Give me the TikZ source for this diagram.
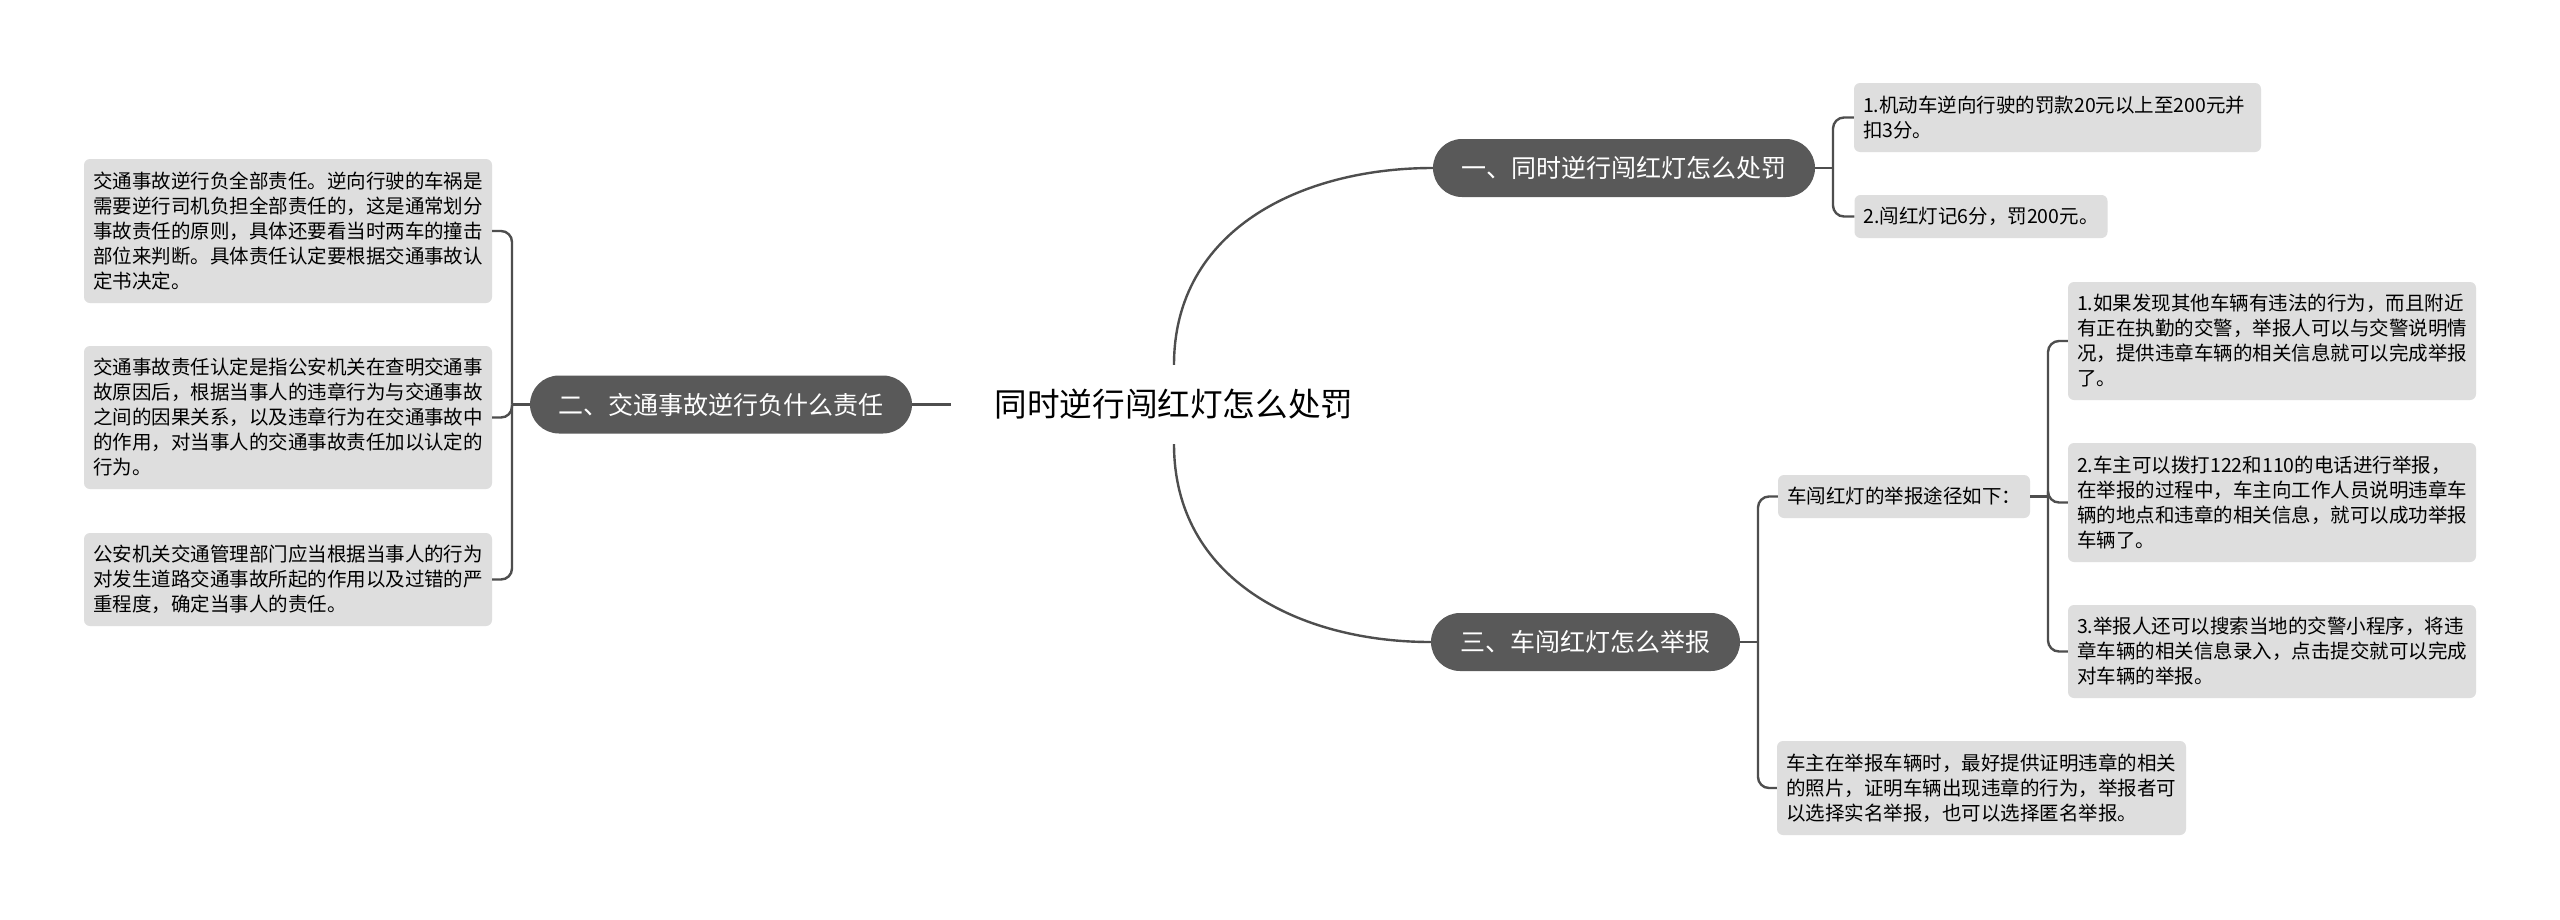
\documentclass[tikz,border=0pt]{standalone}
\usepackage{fontspec}
\setmainfont{Noto Sans CJK SC}
\definecolor{linec}{RGB}{78,78,78}
\definecolor{branchc}{RGB}{89,89,89}
\definecolor{leafc}{RGB}{222,222,222}
\begin{document}
\begin{tikzpicture}[x=1pt,y=-1pt,
  conn/.style={draw=linec, line width=2.4pt},
  branch/.style={fill=branchc, text=white, rounded corners=29pt, minimum height=58pt, inner sep=0pt, font=\fontsize{25}{30}\selectfont},
  leaf/.style={fill=leafc, rounded corners=6pt, inner xsep=9pt, inner ysep=0pt, align=left, font=\fontsize{19.5}{25}\selectfont, text=black},
  wide/.style={text width=390pt},
  titlebox/.style={inner sep=0pt, minimum width=446pt, minimum height=79pt, font=\fontsize{32.6}{40}\selectfont, text=black}
]
\fill[white] (0,0) rectangle (2560,919);
\useasboundingbox (0,0) rectangle (2560,919);

% central topic
\node[titlebox] (title) at (1174,404.5) {同时逆行闯红灯怎么处罚};

% main branches
\node[branch, minimum width=382pt] (b1) at (1624,168) {一、同时逆行闯红灯怎么处罚};
\node[branch, minimum width=382pt] (b2) at (721,404.5) {二、交通事故逆行负什么责任};
\node[branch, minimum width=309pt] (b3) at (1585.5,642) {三、车闯红灯怎么举报};

% left leaves
\node[leaf, wide, minimum height=144pt] (L1) at (288,231) {交通事故逆行负全部责任。逆向行驶的车祸是\\需要逆行司机负担全部责任的，这是通常划分\\事故责任的原则，具体还要看当时两车的撞击\\部位来判断。具体责任认定要根据交通事故认\\定书决定。};
\node[leaf, wide, minimum height=143pt] (L2) at (288,417.5) {交通事故责任认定是指公安机关在查明交通事\\故原因后，根据当事人的违章行为与交通事故\\之间的因果关系，以及违章行为在交通事故中\\的作用，对当事人的交通事故责任加以认定的\\行为。};
\node[leaf, wide, minimum height=93pt] (L3) at (288,579.5) {公安机关交通管理部门应当根据当事人的行为\\对发生道路交通事故所起的作用以及过错的严\\重程度，确定当事人的责任。};

% branch 1 leaves
\node[leaf, text width=389pt, minimum height=69pt] (R1) at (2057.5,117.5) {1.机动车逆向行驶的罚款20元以上至200元并\\扣3分。};
\node[leaf, minimum height=43pt] (R2) at (1981,216.5) {2.闯红灯记6分，罚200元。};

% branch 3 leaves
\node[leaf, minimum height=43pt] (S) at (1904,496.5) {车闯红灯的举报途径如下：};
\node[leaf, wide, minimum height=118pt] (A) at (2272,341) {1.如果发现其他车辆有违法的行为，而且附近\\有正在执勤的交警，举报人可以与交警说明情\\况，提供违章车辆的相关信息就可以完成举报\\了。};
\node[leaf, wide, minimum height=119pt] (B) at (2272,502.5) {2.车主可以拨打122和110的电话进行举报，\\在举报的过程中，车主向工作人员说明违章车\\辆的地点和违章的相关信息，就可以成功举报\\车辆了。};
\node[leaf, wide, minimum height=93pt] (C) at (2272,651.5) {3.举报人还可以搜索当地的交警小程序，将违\\章车辆的相关信息录入，点击提交就可以完成\\对车辆的举报。};
\node[leaf, text width=391pt, minimum height=94pt] (D) at (1981.5,788) {车主在举报车辆时，最好提供证明违章的相关\\的照片，证明车辆出现违章的行为，举报者可\\以选择实名举报，也可以选择匿名举报。};

% junctions
\coordinate (J2) at (512,404.5);
\coordinate (J1) at (1833,168);
\coordinate (J3) at (1758,642);
\coordinate (JS) at (2048,496.5);

% connectors
\draw[conn] (b2.east) -- (title.west);
\draw[conn] (title.north) .. controls +(0,-135) and +(-132,0) .. (b1.west);
\draw[conn] (title.south) .. controls +(0,135) and +(-132,0) .. (b3.west);

\draw[conn] (b2.west) -- (J2);
\foreach \n in {L1,L2,L3} \draw[conn, rounded corners=11pt] (J2) |- (\n.east);

\draw[conn] (b1.east) -- (J1);
\foreach \n in {R1,R2} \draw[conn, rounded corners=11pt] (J1) |- (\n.west);

\draw[conn] (b3.east) -- (J3);
\foreach \n in {S,D} \draw[conn, rounded corners=11pt] (J3) |- (\n.west);

\draw[conn] (S.east) -- (JS);
\foreach \n in {A,B,C} \draw[conn, rounded corners=11pt] (JS) |- (\n.west);
\end{tikzpicture}
\end{document}
